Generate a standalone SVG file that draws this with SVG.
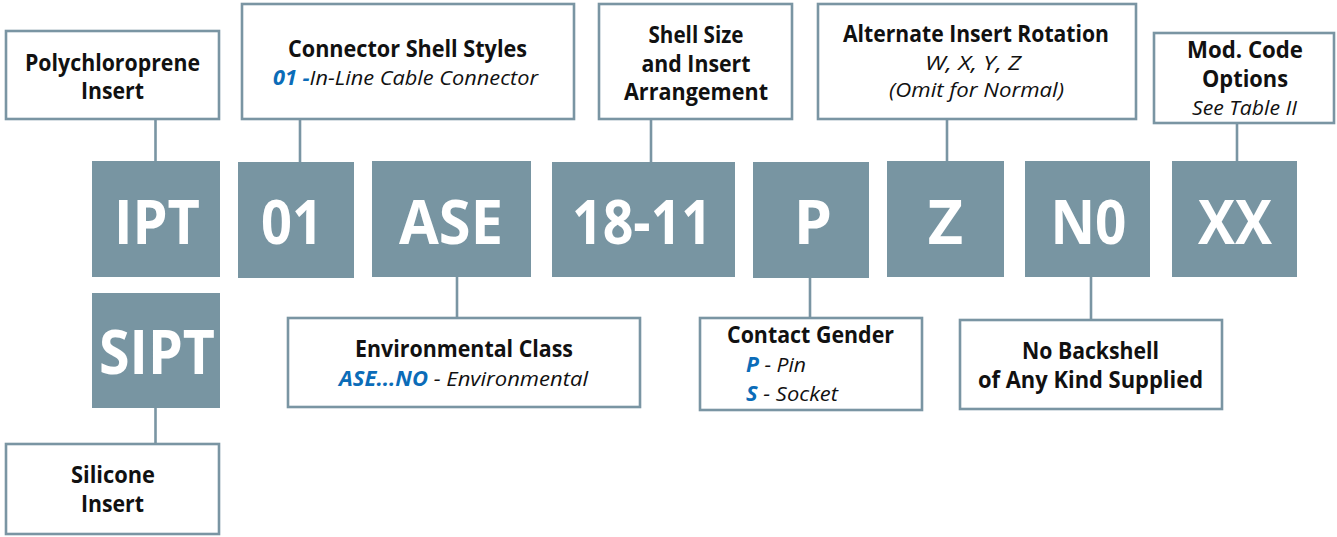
<svg xmlns="http://www.w3.org/2000/svg" width="1337" height="537" viewBox="0 0 1337 537">
<style>
.lbl{fill:#fff;stroke:#7a95a3;stroke-width:2.6}
.code{fill:#7895a2}
.ct{font-family:"Open Sans","Liberation Sans",sans-serif;font-weight:700;font-size:61px;fill:#fff;text-anchor:middle}
.t{font-family:"Open Sans","Liberation Sans",sans-serif;font-weight:700;font-size:22.5px;fill:#111;text-anchor:middle}
.i{font-family:"Open Sans","Liberation Sans",sans-serif;font-style:italic;font-weight:400;font-size:20.5px;fill:#111;text-anchor:middle}
.il{font-family:"Open Sans","Liberation Sans",sans-serif;font-style:italic;font-weight:400;font-size:20.5px;fill:#111}
.b{fill:#0b6cb8;font-weight:700}
.ln{stroke:#7a95a3;stroke-width:2.6;fill:none}
</style>
<g id="connectors">
<line class="ln" x1="155.5" y1="120" x2="155.5" y2="161"/>
<line class="ln" x1="155.5" y1="408" x2="155.5" y2="443"/>
<line class="ln" x1="300" y1="120" x2="300" y2="162"/>
<line class="ln" x1="457" y1="277" x2="457" y2="318"/>
<line class="ln" x1="651" y1="120" x2="651" y2="162"/>
<line class="ln" x1="810" y1="278" x2="810" y2="318"/>
<line class="ln" x1="947" y1="120" x2="947" y2="161"/>
<line class="ln" x1="1091" y1="277" x2="1091" y2="320"/>
<line class="ln" x1="1237" y1="124" x2="1237" y2="161"/>
</g>
<g id="code-IPT"><rect class="code" x="92" y="161" width="128" height="116"/><text class="ct" x="157" y="244" textLength="86" lengthAdjust="spacingAndGlyphs">IPT</text></g>
<g id="code-SIPT"><rect class="code" x="92" y="293" width="128" height="115"/><text class="ct" x="157" y="374" textLength="116" lengthAdjust="spacingAndGlyphs">SIPT</text></g>
<g id="code-01"><rect class="code" x="238" y="162" width="116" height="116"/><text class="ct" x="292" y="244" textLength="62" lengthAdjust="spacingAndGlyphs">01</text></g>
<g id="code-ASE"><rect class="code" x="372" y="161" width="159" height="116"/><text class="ct" x="451" y="244" textLength="104" lengthAdjust="spacingAndGlyphs">ASE</text></g>
<g id="code-18-11"><rect class="code" x="552" y="162" width="183" height="115"/><text class="ct" x="642" y="244" textLength="140" lengthAdjust="spacingAndGlyphs">18-11</text></g>
<g id="code-P"><rect class="code" x="753" y="162" width="116" height="116"/><text class="ct" x="813" y="244">P</text></g>
<g id="code-Z"><rect class="code" x="887" y="161" width="117" height="116"/><text class="ct" x="945.5" y="244">Z</text></g>
<g id="code-N0"><rect class="code" x="1025" y="161" width="125" height="116"/><text class="ct" x="1088.5" y="244" textLength="76" lengthAdjust="spacingAndGlyphs">N0</text></g>
<g id="code-XX"><rect class="code" x="1172" y="161" width="125" height="116"/><text class="ct" x="1235" y="244" textLength="74" lengthAdjust="spacingAndGlyphs">XX</text></g>
<g id="box-polychloroprene"><rect class="lbl" x="6" y="31" width="213" height="88"/>
<text class="t" x="112.5" y="71" textLength="175" lengthAdjust="spacingAndGlyphs">Polychloroprene</text>
<text class="t" x="112.5" y="99" textLength="63" lengthAdjust="spacingAndGlyphs">Insert</text></g>
<g id="box-shell-styles"><rect class="lbl" x="242" y="4" width="332" height="115"/>
<text class="t" x="407.5" y="57" textLength="239" lengthAdjust="spacingAndGlyphs">Connector Shell Styles</text>
<text class="i" x="405.5" y="85" textLength="265" lengthAdjust="spacingAndGlyphs"><tspan class="b">01 -</tspan>In-Line Cable Connector</text></g>
<g id="box-shell-size"><rect class="lbl" x="599" y="4" width="193" height="115"/>
<text class="t" x="696" y="43" textLength="95" lengthAdjust="spacingAndGlyphs">Shell Size</text>
<text class="t" x="696" y="72" textLength="109" lengthAdjust="spacingAndGlyphs">and Insert</text>
<text class="t" x="696" y="100" textLength="144" lengthAdjust="spacingAndGlyphs">Arrangement</text></g>
<g id="box-rotation"><rect class="lbl" x="818" y="4" width="318" height="115"/>
<text class="t" x="976" y="42" textLength="266" lengthAdjust="spacingAndGlyphs">Alternate Insert Rotation</text>
<text class="i" x="973" y="70" textLength="96" lengthAdjust="spacingAndGlyphs">W, X, Y, Z</text>
<text class="i" x="976.5" y="97" textLength="175" lengthAdjust="spacingAndGlyphs">(Omit for Normal)</text></g>
<g id="box-mod-code"><rect class="lbl" x="1154" y="33" width="180" height="90"/>
<text class="t" x="1245" y="58" textLength="116" lengthAdjust="spacingAndGlyphs">Mod. Code</text>
<text class="t" x="1245" y="87" textLength="86" lengthAdjust="spacingAndGlyphs">Options</text>
<text class="i" x="1244.5" y="115" textLength="105" lengthAdjust="spacingAndGlyphs">See Table II</text></g>
<g id="box-environmental"><rect class="lbl" x="288" y="318" width="352" height="89"/>
<text class="t" x="464" y="357" textLength="218" lengthAdjust="spacingAndGlyphs">Environmental Class</text>
<text class="i" x="463.5" y="386" textLength="249" lengthAdjust="spacingAndGlyphs"><tspan class="b">ASE...NO</tspan> - Environmental</text></g>
<g id="box-contact-gender"><rect class="lbl" x="700" y="318" width="222" height="92"/>
<text class="t" x="810.5" y="343" textLength="167" lengthAdjust="spacingAndGlyphs">Contact Gender</text>
<text class="il" x="746" y="372" textLength="60" lengthAdjust="spacingAndGlyphs"><tspan class="b">P</tspan> - Pin</text>
<text class="il" x="746" y="401" textLength="92" lengthAdjust="spacingAndGlyphs"><tspan class="b">S</tspan> - Socket</text></g>
<g id="box-no-backshell"><rect class="lbl" x="960" y="320" width="262" height="89"/>
<text class="t" x="1090.5" y="359" textLength="137" lengthAdjust="spacingAndGlyphs">No Backshell</text>
<text class="t" x="1090.5" y="388" textLength="225" lengthAdjust="spacingAndGlyphs">of Any Kind Supplied</text></g>
<g id="box-silicone"><rect class="lbl" x="6" y="444" width="213" height="90"/>
<text class="t" x="113" y="483" textLength="84" lengthAdjust="spacingAndGlyphs">Silicone</text>
<text class="t" x="112.5" y="512" textLength="63" lengthAdjust="spacingAndGlyphs">Insert</text></g>
</svg>
